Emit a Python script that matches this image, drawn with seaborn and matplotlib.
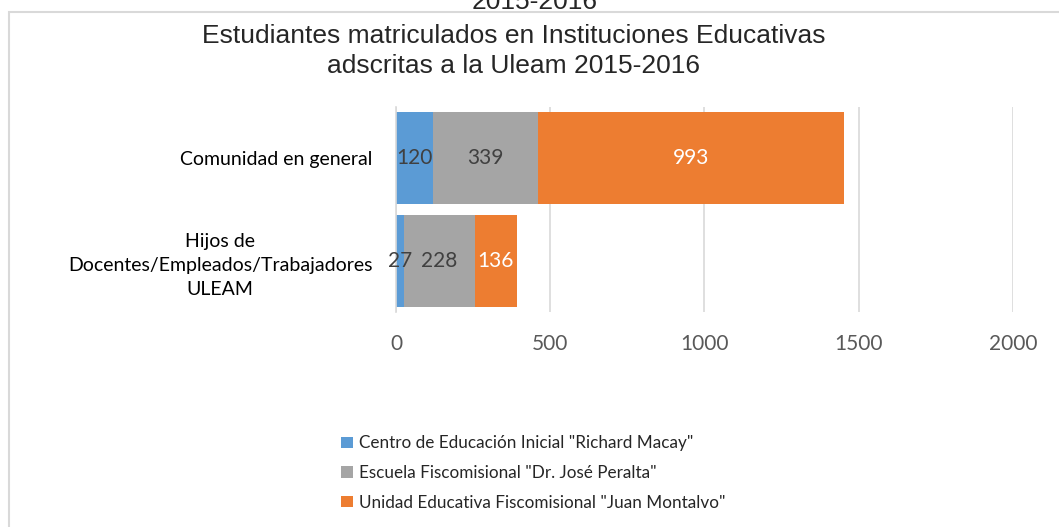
import numpy as np
import pandas as pd
import matplotlib
matplotlib.use("Agg")
import matplotlib.pyplot as plt
from matplotlib.patches import Patch, Rectangle
import seaborn as sns

# ── Data ───────────────────────────────────────────────────────────────────────
categories = ["Comunidad en general",
              "Hijos de\nDocentes/Empleados/Trabajadores\nULEAM"]
series_names = ['Centro de Educación Inicial "Richard Macay"',
                'Escuela Fiscomisional "Dr. José Peralta"',
                'Unidad Educativa Fiscomisional "Juan Montalvo"']
richard_macay = [120, 27]
jose_peralta = [339, 228]
juan_montalvo = [993, 136]
x_ticks = [0, 500, 1000, 1500, 2000]

colors = ["#5B9BD5", "#A5A5A5", "#ED7D31"]
label_colors = ["#404040", "#404040", "white"]
body_font = "Lato"
title_font = "Liberation Sans"

# ── Figure ─────────────────────────────────────────────────────────────────────
sns.set_style("white")
plt.rcParams["font.family"] = [body_font, "DejaVu Sans"]

fig = plt.figure(figsize=(10.59, 5.27), dpi=100)
ax = fig.add_axes([0.374, 0.408, 0.5825, 0.389])

stack = np.array([richard_macay, jose_peralta, juan_montalvo], dtype=float)
cum = np.cumsum(stack, axis=0)

# draw cumulative totals from the largest down so each segment shows
for i in range(len(series_names) - 1, -1, -1):
    df = pd.DataFrame({"cat": categories, "val": cum[i]})
    sns.barplot(data=df, x="val", y="cat", orient="h", color=colors[i],
                saturation=1, width=0.9, ax=ax, linewidth=0)

# data labels centred on each segment
for i in range(len(series_names)):
    for j in range(len(categories)):
        start = cum[i, j] - stack[i, j]
        ax.text(start + stack[i, j] / 2, j, f"{int(stack[i, j])}",
                ha="center", va="center", fontsize=15,
                color=label_colors[i], family=[body_font, "DejaVu Sans"])

ax.set_xlim(0, 2000)
ax.set_xticks(x_ticks)
ax.set_xticklabels([str(t) for t in x_ticks], fontsize=15, color="#595959")
ax.set_xlabel("")
ax.set_ylabel("")
ax.tick_params(axis="x", length=0, pad=16)
ax.tick_params(axis="y", labelsize=14, colors="black", length=0, pad=17)
for lbl in ax.get_yticklabels():
    lbl.set_multialignment("center")
    lbl.set_linespacing(1.5)
ax.grid(axis="x", color="#D9D9D9", linewidth=1.2)
ax.set_axisbelow(True)
for s in ["top", "right", "bottom"]:
    ax.spines[s].set_visible(False)
ax.spines["left"].set_color("#D9D9D9")
ax.spines["left"].set_linewidth(1.2)

# ── Titles ─────────────────────────────────────────────────────────────────────
fig.text(0.485, 0.903, "Estudiantes matriculados en Instituciones Educativas\n"
         "adscritas a la Uleam 2015-2016", ha="center", va="center",
         fontsize=19, family=title_font, linespacing=1.3)
# leftover heading cut by the top edge
fig.text(0.505, 0.983, "2015-2016", ha="center", va="baseline",
         fontsize=19, family=title_font)

# chart-area border
fig.patches.append(Rectangle((0.0085, -0.05), 1.2, 1.027, transform=fig.transFigure,
                             fill=False, edgecolor="#D9D9D9", linewidth=1.5))

# ── Legend ─────────────────────────────────────────────────────────────────────
handles = [Patch(facecolor=c, edgecolor="none") for c in colors]
fig.legend(handles, series_names, loc="upper left",
           bbox_to_anchor=(0.316, 0.187), frameon=False, fontsize=12.3,
           handlelength=0.65, handleheight=0.65, handletextpad=0.35,
           labelspacing=0.8, borderaxespad=0)

fig.savefig("out.png", dpi=100)
